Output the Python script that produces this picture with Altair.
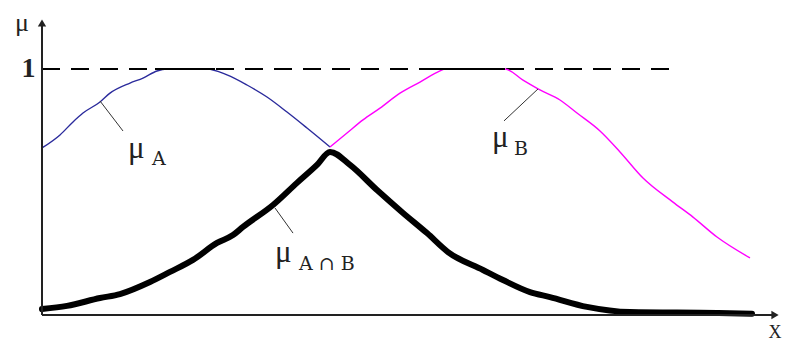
import altair as alt
import pandas as pd

# ---- data (x in axis units, y = membership degree) ----
xa = [0, 18, 31, 41, 58, 68, 88, 101, 115, 125, 165, 185, 205, 225, 245, 265, 288]
ya = [0.679, 0.732, 0.785, 0.821, 0.866, 0.902, 0.943, 0.963, 0.992, 1.0, 1.0,
      0.976, 0.935, 0.886, 0.825, 0.760, 0.683]

xb = [288, 305, 321, 338, 358, 378, 398, 403, 463, 481, 498, 518, 535, 558,
      578, 601, 631, 651, 675, 708]
yb = [0.683, 0.740, 0.793, 0.841, 0.902, 0.947, 0.992, 1.0, 1.0, 0.955, 0.915,
      0.874, 0.821, 0.748, 0.663, 0.557, 0.459, 0.398, 0.317, 0.232]

xc = [0, 25, 58, 78, 108, 128, 151, 175, 191, 201, 231, 255, 275, 288, 308, 335,
      361, 385, 406, 441, 461, 488, 508, 545, 588, 675, 710]
yc = [0.024, 0.037, 0.069, 0.085, 0.134, 0.175, 0.224, 0.293, 0.325, 0.358,
      0.447, 0.537, 0.610, 0.663, 0.610, 0.508, 0.415, 0.333, 0.256, 0.183,
      0.142, 0.093, 0.073, 0.033, 0.012, 0.008, 0.005]

dash_end = 634
plateau_x = [113, 377]
plateau_x2 = [173, 463]

label_mu = ["μ", "μ", "μ"]
label_sub = ["A", "B", "A ∩ B"]
mu_x = [86, 450, 233]
mu_y = [0.638, 0.683, 0.215]
sub_x = [110, 472, 257]
sub_y = [0.610, 0.650, 0.183]

lead_x = [58, 496, 233]
lead_x2 = [81, 462, 251]
lead_y = [0.870, 0.919, 0.435]
lead_y2 = [0.748, 0.789, 0.333]

# ---- scales ----
W, H = 741, 307
xs = alt.Scale(domain=[0, 741], nice=False, zero=False)
ys = alt.Scale(domain=[0, 307 / 246], nice=False, zero=False)

def X(f="x"):
    return alt.X(f + ":Q", scale=xs, axis=None)

def Y(f="y"):
    return alt.Y(f + ":Q", scale=ys, axis=None)

dfa = pd.DataFrame({"x": xa, "y": ya})
dfb = pd.DataFrame({"x": xb, "y": yb})
dfc = pd.DataFrame({"x": xc, "y": yc})

dashed = alt.Chart(pd.DataFrame({"x": [0], "x2": [dash_end], "y": [1.0]})).mark_rule(
    color="black", strokeWidth=2, strokeDash=[18, 11]
).encode(x=X(), x2="x2:Q", y=Y())

line_a = alt.Chart(dfa).mark_line(color="#2b2b9c", strokeWidth=1.4, interpolate="monotone").encode(
    x=X(), y=Y())
line_b = alt.Chart(dfb).mark_line(color="#ff00ff", strokeWidth=1.4, interpolate="monotone").encode(
    x=X(), y=Y())
line_c = alt.Chart(dfc).mark_line(color="black", strokeWidth=6, strokeJoin="round",
                                  strokeCap="round", interpolate="monotone").encode(x=X(), y=Y())

plateau = alt.Chart(pd.DataFrame({"x": plateau_x, "x2": plateau_x2, "y": [1.0, 1.0]})).mark_rule(
    color="black", strokeWidth=2
).encode(x=X(), x2="x2:Q", y=Y())

axes = alt.Chart(pd.DataFrame({"x": [0, 0], "x2": [0, 733], "y": [0, 0], "y2": [1.19, 0]})).mark_rule(
    color="#222", strokeWidth=2
).encode(x=X(), x2="x2:Q", y=Y(), y2="y2:Q")

arrows = alt.Chart(pd.DataFrame({"x": [0, 733], "y": [1.187, 0],
                                 "s": ["triangle-up", "triangle-right"]})).mark_point(
    filled=True, color="#222", size=70, opacity=1
).encode(x=X(), y=Y(), shape=alt.Shape("s:N", scale=None, legend=None))

leaders = alt.Chart(pd.DataFrame({"x": lead_x, "x2": lead_x2, "y": lead_y, "y2": lead_y2})).mark_rule(
    color="#333", strokeWidth=1
).encode(x=X(), x2="x2:Q", y=Y(), y2="y2:Q")

mu_txt = alt.Chart(pd.DataFrame({"x": mu_x, "y": mu_y, "t": label_mu})).mark_text(
    font="Liberation Serif", fontSize=31, align="left", baseline="alphabetic", color="#222"
).encode(x=X(), y=Y(), text="t:N")

sub_txt = alt.Chart(pd.DataFrame({"x": sub_x, "y": sub_y, "t": label_sub})).mark_text(
    font="DejaVu Serif", fontSize=19, align="left", baseline="alphabetic", color="#222"
).encode(x=X(), y=Y(), text="t:N")

mu_axis = alt.Chart(pd.DataFrame({"x": [-20], "y": [1.154], "t": ["μ"]})).mark_text(
    font="Liberation Serif", fontSize=26, align="center", baseline="alphabetic", color="#222"
).encode(x=X(), y=Y(), text="t:N")

one_txt = alt.Chart(pd.DataFrame({"x": [-13.5], "y": [0.967], "t": ["1"]})).mark_text(
    font="Liberation Serif", fontSize=28, fontWeight="bold", align="center",
    baseline="alphabetic", color="#222"
).encode(x=X(), y=Y(), text="t:N")

x_txt = alt.Chart(pd.DataFrame({"x": [733], "y": [-0.094], "t": ["X"]})).mark_text(
    font="Liberation Serif", fontSize=18, align="center", baseline="alphabetic", color="#222"
).encode(x=X(), y=Y(), text="t:N")

chart = alt.layer(
    dashed, line_a, line_b, plateau, line_c, axes, arrows, leaders,
    mu_txt, sub_txt, mu_axis, one_txt, x_txt
).properties(
    width=W, height=H,
    autosize=alt.AutoSizeParams(type="none"),
    padding={"left": 34, "top": 0, "right": 0, "bottom": 28},
    background="white",
).configure_view(stroke=None)

chart.save("out.html", embed_options={"renderer": "svg", "actions": False})
